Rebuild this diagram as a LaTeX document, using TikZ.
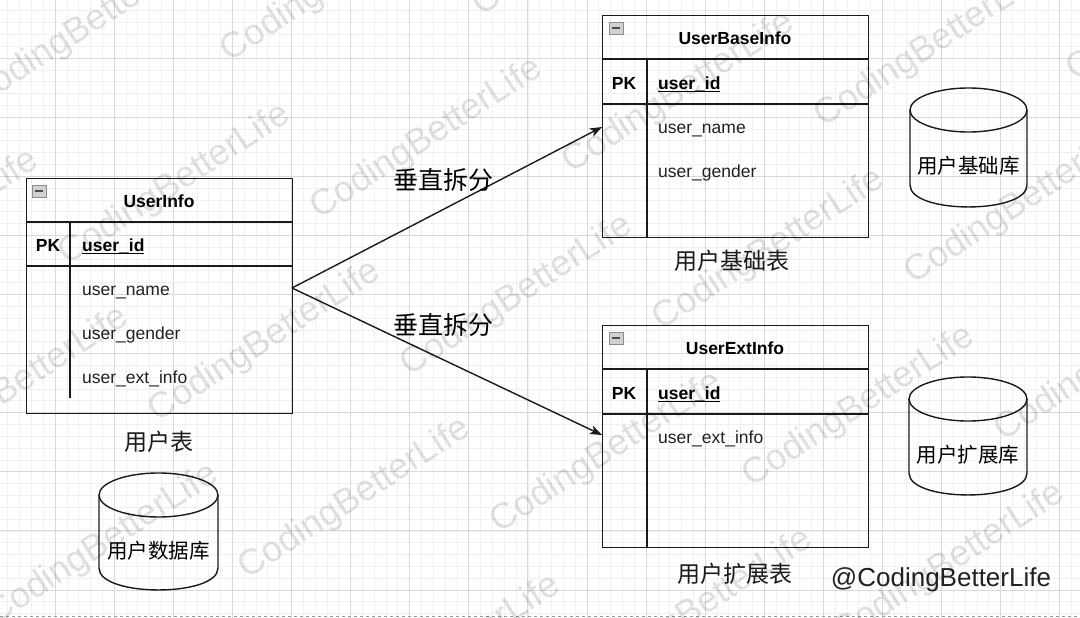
\documentclass[tikz,border=0pt]{standalone}
\usepackage{fontspec}
\setmainfont{Liberation Sans}
\newfontfamily\cjk{Noto Sans CJK SC}
\usetikzlibrary{arrows.meta}
\newcommand\ulbox[1]{\setbox0\hbox{#1}\rlap{\rule[-3pt]{\wd0}{1.3pt}}\box0}
\definecolor{ink}{HTML}{1A1A1A}
\definecolor{fieldc}{HTML}{222222}
\definecolor{minorc}{HTML}{F0F0F0}
\definecolor{majorc}{HTML}{D9D9D9}
\begin{document}
\begin{tikzpicture}[x=1pt,y=-1pt,
  tline/.style={draw=ink, line width=1.4pt},
  tbl/.style={draw=ink, line width=1.4pt, inner sep=0, anchor=north west},
  title/.style={font=\fontsize{17.5}{20}\selectfont\bfseries, text=black, inner sep=0, anchor=base},
  pkey/.style={font=\fontsize{17.5}{20}\selectfont\bfseries, text=black, inner sep=0, anchor=base},
  pkfield/.style={font=\fontsize{17.5}{20}\selectfont\bfseries, text=black, inner sep=0, anchor=base west},
  field/.style={font=\fontsize{17.5}{20}\selectfont, text=fieldc, inner sep=0, anchor=base west},
  caption/.style={font=\cjk\fontsize{23}{26}\selectfont, text=ink, inner sep=0},
  splitlabel/.style={font=\cjk\fontsize{25}{28}\selectfont, text=black, inner sep=0},
  dblabel/.style={font=\cjk\fontsize{20.5}{24}\selectfont, text=black, inner sep=0},
  cyl/.style={draw=ink, line width=1.4pt},
  toggle/.style={draw=black!45, fill=black!18, line width=0.8pt},
  arrowline/.style={draw=ink, line width=1.4pt, -{Stealth[length=12pt,width=9pt,inset=3pt]}},
  wmark/.style={font=\fontsize{36}{40}\selectfont, text=black, opacity=0.12, rotate=33, inner sep=0},
  minorline/.style={draw=minorc, line width=0.8pt},
  majorline/.style={draw=majorc, line width=0.9pt}
]
\useasboundingbox (0,0) rectangle (1080,618);
\fill[white] (0,0) rectangle (1080,618);
% grid
\begin{scope}
\clip (0,0) rectangle (1080,618);
\foreach \k in {0,...,92} { \draw[minorline] ({-4+11.82*\k},0) -- ({-4+11.82*\k},618); }
\foreach \k in {0,...,53} { \draw[minorline] (0,{-1+11.82*\k}) -- (1080,{-1+11.82*\k}); }
\foreach \k in {0,...,19} { \draw[majorline] ({-4+59.1*\k},0) -- ({-4+59.1*\k},618); }
\foreach \k in {0,...,11} { \draw[majorline] (0,{-1+59.1*\k}) -- (1080,{-1+59.1*\k}); }
\end{scope}
\draw[black!40, dashed, line width=0.8pt] (0,616.5) -- (1080,616.5);

% ---------- UserInfo ----------
\node[tbl, minimum width=266pt, minimum height=235pt] (ui) at (26,178) {};
\draw[tline] (26,222) -- (292,222);
\draw[tline] (26,266) -- (292,266);
\draw[tline] (70,222) -- (70,398);
\draw[toggle] (32,185) rectangle (46,197);
\draw[black!70, line width=1.3pt] (35,191) -- (43,191);
\node[title] (uiT) at (159,207) {UserInfo};
\node[pkey] (uiPK) at (48,251) {PK};
\node[pkfield] (uiId) at (82,251) {\ulbox{user\_id}};
\node[field] (uiName) at (82,295) {user\_name};
\node[field] (uiGender) at (82,339) {user\_gender};
\node[field] (uiExt) at (82,383) {user\_ext\_info};
\node[caption] (uiCap) at (159,442) {用户表};

% ---------- UserBaseInfo ----------
\node[tbl, minimum width=266pt, minimum height=222pt] (ub) at (602,15) {};
\draw[tline] (602,59) -- (868,59);
\draw[tline] (602,104) -- (868,104);
\draw[tline] (647,59) -- (647,237);
\draw[toggle] (609,22) rectangle (623,34);
\draw[black!70, line width=1.3pt] (612,28) -- (620,28);
\node[title] (ubT) at (735,45) {UserBaseInfo};
\node[pkey] (ubPK) at (624,89) {PK};
\node[pkfield] (ubId) at (658,89) {\ulbox{user\_id}};
\node[field] (ubName) at (658,133) {user\_name};
\node[field] (ubGender) at (658,177) {user\_gender};
\node[caption] (ubCap) at (732,261) {用户基础表};

% ---------- UserExtInfo ----------
\node[tbl, minimum width=266pt, minimum height=222pt] (ue) at (602,325) {};
\draw[tline] (602,369) -- (868,369);
\draw[tline] (602,414) -- (868,414);
\draw[tline] (647,369) -- (647,547);
\draw[toggle] (609,332) rectangle (623,344);
\draw[black!70, line width=1.3pt] (612,338) -- (620,338);
\node[title] (ueT) at (735,354) {UserExtInfo};
\node[pkey] (uePK) at (624,399) {PK};
\node[pkfield] (ueId) at (658,399) {\ulbox{user\_id}};
\node[field] (ueExt) at (658,443) {user\_ext\_info};
\node[caption] (ueCap) at (735,574) {用户扩展表};

% ---------- connectors ----------
\coordinate (split) at (292,288);
\coordinate (baseIn) at (602,127);
\coordinate (extIn) at (602,435);
\draw[arrowline] (split) -- (baseIn);
\draw[arrowline] (split) -- (extIn);
\node[splitlabel] (lab1) at (443,180) {垂直拆分};
\node[splitlabel] (lab2) at (443,325) {垂直拆分};

% ---------- cylinders ----------
\draw[cyl] (968.5,110) ellipse [x radius=58.5pt, y radius=22pt];
\draw[cyl] (910,110) -- (910,185) .. controls (910,214.3) and (1027,214.3) .. (1027,185) -- (1027,110);
\node[dblabel] (dbBase) at (968.5,166) {用户基础库};
\draw[cyl] (968,399) ellipse [x radius=59pt, y radius=22pt];
\draw[cyl] (909,399) -- (909,473) .. controls (909,502.3) and (1027,502.3) .. (1027,473) -- (1027,399);
\node[dblabel] (dbExt) at (968,455) {用户扩展库};
\draw[cyl] (158.5,495) ellipse [x radius=59.5pt, y radius=22pt];
\draw[cyl] (99,495) -- (99,568) .. controls (99,597.3) and (218,597.3) .. (218,568) -- (218,495);
\node[dblabel] (dbMain) at (158.5,551) {用户数据库};

% ---------- signature ----------
\node[font=\fontsize{26}{30}\selectfont, text=fieldc, inner sep=0] (sig) at (941,580) {@CodingBetterLife};

% ---------- watermarks ----------
\begin{scope}
\clip (0,0) rectangle (1080,618);
\foreach \i in {-1,...,4} {
  \foreach \j in {-1,...,3} {
    \node[wmark] (wm\i\j) at ({175+252*\i+90*\j},{185-46*\i+157*\j}) {CodingBetterLife};
  }
}
\end{scope}
\end{tikzpicture}
\end{document}
